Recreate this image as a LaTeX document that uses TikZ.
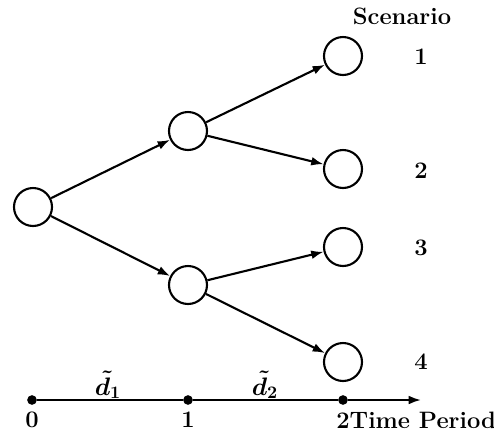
\documentclass[tikz,border=0pt]{standalone}
\usepackage{amsmath}
\usepackage{tikz}
\usetikzlibrary{arrows.meta, positioning}
\tikzset{
  state/.style={
    circle, draw, line width=1.2pt,
    minimum size=0.76cm, inner sep=0pt,
  },
  branch/.style={-{Latex[length=7pt,width=5pt]}, line width=1.2pt},
  tick/.style={circle, fill, inner sep=0pt, minimum size=5.5pt},
  lbl/.style={font=\fontsize{13.5}{16}\selectfont\bfseries},
  mlbl/.style={font=\fontsize{14}{16}\selectfont\boldmath},
}

\begin{document}
\begin{tikzpicture}[x=0.02cm, y=-0.02cm]

  \useasboundingbox (0,0) rectangle (494,434);

  % scenario tree
  \node[state] (root) at (33,207) {};
  \node[state] (up) at (188,131) {};
  \node[state] (down) at (188,285) {};
  \node[state] (s1) at (343,56) {};
  \node[state] (s2) at (343,169) {};
  \node[state] (s3) at (343,247) {};
  \node[state] (s4) at (343,362) {};

  \draw[branch] (root) -- (up);
  \draw[branch] (root) -- (down);
  \draw[branch] (up) -- (s1);
  \draw[branch] (up) -- (s2);
  \draw[branch] (down) -- (s3);
  \draw[branch] (down) -- (s4);

  % scenario labels
  \node[lbl] (head) at (402,16) {Scenario};
  \node[lbl] (n1) at (421,57) {1};
  \node[lbl] (n2) at (421,171) {2};
  \node[lbl] (n3) at (421,248) {3};
  \node[lbl] (n4) at (421,362) {4};

  % time axis
  \node[tick] (t0) at (32,400) {};
  \node[tick] (t1) at (188,400) {};
  \node[tick] (t2) at (343,400) {};
  \coordinate (tend) at (421,400);

  \draw[line width=1.2pt] (t0) -- (t1) -- (t2);
  \draw[branch] (t2) -- (tend);

  \node[lbl] (p0) at (32,420) {0};
  \node[lbl] (p1) at (188,420) {1};
  \node[lbl, anchor=west, inner sep=0pt] (p2) at (336,420) {2Time Period};
  \node[mlbl] (dd1) at (108,385) {$\tilde{d}_1$};
  \node[mlbl] (dd2) at (265,385) {$\tilde{d}_2$};

\end{tikzpicture}
\end{document}
